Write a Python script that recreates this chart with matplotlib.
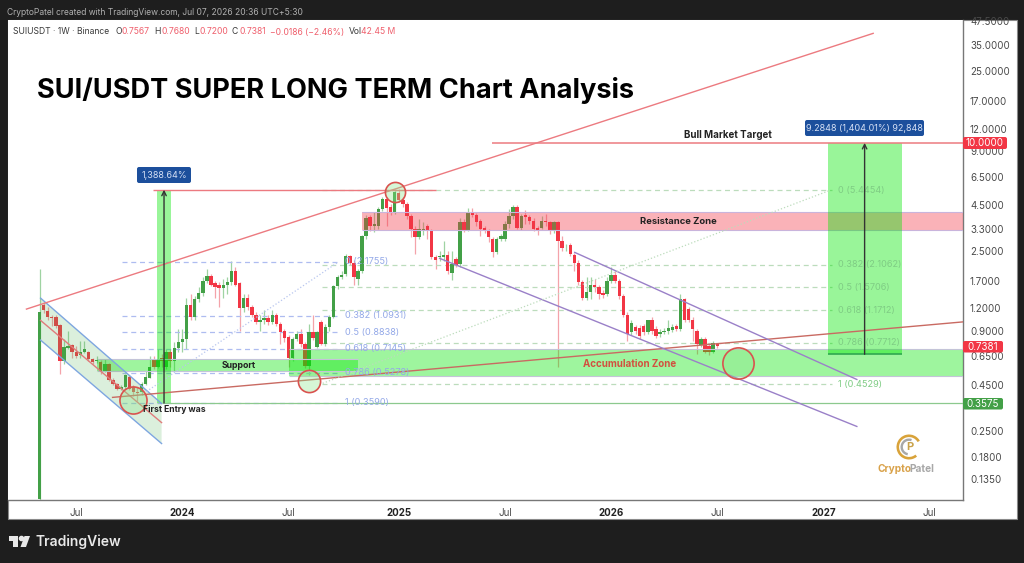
import matplotlib
matplotlib.use("Agg")
import matplotlib.pyplot as plt
from matplotlib.patches import Rectangle, Polygon, Wedge, FancyBboxPatch
from matplotlib.transforms import Affine2D

plt.rcParams['font.family'] = ['Inter', 'DejaVu Sans']

# --------------------------
# weekly candles (week 0 = first SUI candle)
# --------------------------
opens = [0.105, 1.26, 1.16, 1.08, 1.07, 0.97, 0.61, 0.72, 0.75, 0.69, 0.66, 0.69, 0.685, 0.63, 0.61, 0.605, 0.535, 0.59, 0.48, 0.455,
         0.43, 0.44, 0.50, 0.44, 0.41, 0.41, 0.455, 0.495, 0.62, 0.565, 0.635, 0.565, 0.69, 0.61, 0.72, 0.78, 0.81, 1.26, 1.07, 1.35,
         1.47, 1.70, 1.81, 1.66, 1.63, 1.55, 1.61, 1.68, 1.93, 1.66, 1.20, 1.38, 1.23, 1.11, 1.01, 1.03, 1.06, 1.01, 1.10, 0.98,
         0.90, 0.83, 0.635, 0.81, 0.86, 0.76, 0.575, 0.89, 0.73, 1.01, 0.76, 0.94, 1.08, 1.59, 1.79, 1.86, 2.34, 2.16, 1.74, 1.93,
         3.02, 3.85, 3.43, 3.47, 4.27, 4.85, 4.38, 4.11, 5.24, 4.79, 4.55, 3.90, 3.30, 2.98, 3.22, 3.43, 3.22, 2.31, 2.31, 2.31,
         2.37, 1.90, 2.25, 2.11, 3.61, 3.26, 4.11, 3.95, 3.66, 3.38, 3.22, 2.91, 2.46, 2.91, 2.91, 3.52, 3.90, 4.38, 3.38, 3.95,
         3.85, 3.70, 3.38, 3.38, 3.70, 3.61, 3.22, 3.61, 2.83, 2.62, 2.69, 2.37, 2.16, 1.68, 1.37, 1.49, 1.61, 1.57, 1.47, 1.44,
         1.70, 1.83, 1.70, 1.40, 1.11, 0.89, 0.94, 0.93, 0.96, 0.89, 1.04, 0.92, 0.86, 0.89, 0.90, 0.91, 0.96, 0.92, 1.35, 1.19,
         1.04, 0.90, 0.75, 0.81, 0.74, 0.685, 0.7567]
highs = [2.00, 1.30, 1.22, 1.11, 1.10, 0.98, 0.81, 0.90, 0.76, 0.74, 0.79, 0.79, 0.70, 0.64, 0.65, 0.62, 0.63, 0.595, 0.49, 0.46,
         0.45, 0.52, 0.51, 0.45, 0.44, 0.465, 0.535, 0.65, 0.65, 0.71, 0.67, 0.71, 0.71, 0.78, 0.92, 0.92, 1.38, 1.45, 1.40, 1.57,
         1.79, 1.98, 1.86, 1.70, 1.68, 1.74, 1.79, 2.19, 2.03, 1.68, 1.45, 1.44, 1.26, 1.14, 1.11, 1.17, 1.10, 1.17, 1.13, 1.01,
         0.92, 0.85, 0.83, 0.90, 0.92, 0.78, 0.98, 1.11, 0.90, 1.04, 0.98, 1.11, 1.63, 1.83, 1.93, 2.40, 2.37, 2.22, 1.98, 3.06,
         3.95, 3.95, 4.11, 4.38, 4.97, 4.97, 4.55, 5.51, 5.55, 4.97, 4.67, 4.00, 3.47, 3.75, 3.61, 3.52, 3.30, 2.37, 2.49, 2.83,
         2.49, 2.49, 2.31, 3.80, 3.75, 4.32, 4.32, 4.05, 3.75, 3.47, 3.30, 2.98, 2.98, 3.10, 3.66, 4.27, 4.49, 4.49, 4.00, 4.22,
         3.95, 3.80, 3.47, 3.90, 4.00, 3.70, 3.70, 3.70, 3.02, 2.73, 2.76, 2.43, 2.22, 1.72, 1.79, 1.79, 1.74, 1.63, 1.51, 1.79,
         2.03, 1.93, 1.74, 1.44, 1.14, 1.04, 0.97, 0.97, 0.98, 1.04, 1.07, 0.96, 0.92, 0.93, 1.04, 0.98, 0.98, 1.44, 1.38, 1.22,
         1.07, 0.92, 0.83, 0.83, 0.77, 0.79, 0.768]
lows = [0.10, 1.13, 1.03, 0.96, 0.93, 0.515, 0.59, 0.71, 0.64, 0.635, 0.64, 0.675, 0.61, 0.59, 0.595, 0.52, 0.53, 0.475, 0.45, 0.42,
        0.42, 0.43, 0.42, 0.39, 0.365, 0.395, 0.45, 0.49, 0.55, 0.56, 0.565, 0.55, 0.57, 0.535, 0.69, 0.69, 0.71, 1.04, 1.04, 1.30,
        1.40, 1.66, 1.59, 1.38, 1.22, 1.38, 1.44, 1.63, 1.59, 0.90, 1.14, 1.17, 1.07, 0.98, 0.90, 0.98, 0.97, 0.98, 0.96, 0.76,
        0.78, 0.565, 0.61, 0.79, 0.73, 0.56, 0.51, 0.80, 0.72, 0.75, 0.74, 0.90, 1.06, 1.53, 1.74, 1.81, 2.08, 1.63, 1.61, 1.88,
        2.91, 3.22, 3.18, 3.34, 4.16, 3.47, 3.95, 4.00, 4.67, 4.38, 3.75, 2.98, 2.40, 2.91, 3.06, 2.91, 2.25, 1.98, 2.19, 2.19,
        1.86, 1.72, 2.03, 2.05, 3.18, 3.22, 3.85, 3.47, 3.02, 3.14, 2.80, 2.31, 2.40, 2.83, 2.83, 3.38, 3.75, 3.30, 3.26, 3.56,
        3.52, 3.22, 3.06, 3.30, 3.47, 3.10, 3.14, 0.565, 2.52, 2.49, 2.34, 1.93, 1.63, 1.33, 1.33, 1.35, 1.49, 1.35, 1.38, 1.40,
        1.66, 1.66, 1.35, 1.08, 0.79, 0.85, 0.86, 0.81, 0.85, 0.86, 0.87, 0.82, 0.83, 0.86, 0.87, 0.89, 0.90, 0.90, 1.01, 1.01,
        0.79, 0.67, 0.73, 0.675, 0.66, 0.675, 0.72]
closes = [1.14, 1.17, 1.07, 1.06, 0.96, 0.61, 0.73, 0.74, 0.685, 0.65, 0.69, 0.71, 0.63, 0.605, 0.62, 0.535, 0.59, 0.48, 0.455, 0.43,
          0.44, 0.51, 0.43, 0.41, 0.405, 0.455, 0.50, 0.565, 0.565, 0.63, 0.61, 0.69, 0.61, 0.72, 0.78, 0.81, 1.26, 1.07, 1.35, 1.47,
          1.70, 1.81, 1.63, 1.57, 1.55, 1.63, 1.68, 1.93, 1.63, 1.20, 1.38, 1.22, 1.10, 1.01, 1.03, 1.06, 1.01, 1.10, 0.98, 0.89,
          0.82, 0.64, 0.81, 0.86, 0.76, 0.575, 0.89, 0.82, 0.89, 0.76, 0.94, 1.08, 1.59, 1.79, 1.83, 2.34, 2.14, 1.79, 1.93, 3.02,
          3.80, 3.43, 3.52, 4.27, 4.85, 4.32, 4.11, 5.30, 4.79, 4.55, 3.90, 3.30, 2.98, 3.30, 3.34, 3.22, 2.31, 2.22, 2.34, 2.37,
          1.93, 2.11, 2.08, 3.61, 3.26, 4.11, 3.95, 3.61, 3.30, 3.22, 2.98, 2.46, 2.91, 3.02, 3.52, 3.90, 4.38, 3.38, 3.90, 3.85,
          3.66, 3.30, 3.22, 3.66, 3.61, 3.22, 3.61, 2.83, 2.59, 2.65, 2.40, 2.16, 1.68, 1.37, 1.49, 1.61, 1.57, 1.44, 1.42, 1.70,
          1.83, 1.70, 1.40, 1.11, 0.86, 0.99, 0.90, 0.84, 0.89, 1.03, 0.90, 0.84, 0.89, 0.90, 0.93, 0.94, 0.92, 1.35, 1.03, 1.04,
          0.92, 0.76, 0.81, 0.69, 0.685, 0.77, 0.7381]

# --------------------------
# axis labels
# --------------------------
price_ticks = [47.5, 35, 25, 17, 12, 9, 6.5, 4.5, 3.3, 2.5, 1.7, 1.2, 0.9, 0.65, 0.45, 0.35, 0.25, 0.18, 0.135]
time_ticks = [9, 35, 61, 88, 114, 140, 166, 192, 218]
time_labels = ["Jul", "2024", "Jul", "2025", "Jul", "2026", "Jul", "2027", "Jul"]

# --------------------------
# fibonacci levels
# --------------------------
blue_fib_levels = [0, 0.382, 0.5, 0.618, 0.786, 1]
blue_fib_prices = [2.1755, 1.0931, 0.8838, 0.7145, 0.5278, 0.3590]
green_fib_levels = [0, 0.382, 0.5, 0.618, 0.786, 1]
green_fib_prices = [5.4454, 2.1062, 1.5706, 1.1712, 0.7712, 0.4529]

# drawings: (week, price)
upper_trend = [(-3.2, 1.19), (204.2, 40.7)]
lower_trend = [(17.9, 0.384), (226.2, 1.01)]
channel_top = [(0.25, 1.37), (29.9, 0.355)]
channel_mid = [(0.25, 1.03), (29.9, 0.278)]
channel_bottom = [(0.25, 0.80), (29.9, 0.2126)]
purple_lower = [(98, 2.28), (200.2, 0.2646)]
purple_upper = [(131.1, 2.46), (200.2, 0.483)]
blue_dotted = [(26.2, 0.414), (73, 2.16)]
green_dotted = [(68.6, 0.4529), (193.6, 5.4454)]
circle_weeks = [22.8, 65.9, 87, 171]
circle_prices = [0.37, 0.475, 5.33, 0.595]
circle_sizes = [19.5, 16, 14.5, 22.5]

W, H = 1024, 563
RED = "#f23645"
GREEN = "#43a047"
LINE_RED = "#ec7a80"
PURPLE = "#9a80c8"
XMIN, XMAX = -7.84, 226.2


def fx(px):
    return px / W


def fy(py):
    return 1 - py / H


# pixel coordinates of the picture, y flipped
px_trans = Affine2D().scale(1, -1).translate(0, H)

fig = plt.figure(figsize=(W / 100, H / 100), dpi=100, facecolor="#1e1e1e")

# white panel behind chart and scales
fig.add_artist(Rectangle((fx(7.5), fy(519)), 1009.5 / W, 499.5 / H, transform=fig.transFigure,
                         facecolor="white", edgecolor="#8a8a8a", linewidth=0.8, zorder=-5))

ax = fig.add_axes([fx(7.5), fy(499.5), 955.5 / W, 480 / H], facecolor="white")
ax.set_yscale("log")
ax.set_xlim(XMIN, XMAX)
ax.set_ylim(0.1038, 48.6)

for s in ["top", "left"]:
    ax.spines[s].set_visible(False)
for s in ["right", "bottom"]:
    ax.spines[s].set_color("#777777")
    ax.spines[s].set_linewidth(1.0)

ax.yaxis.tick_right()
ax.set_yticks(price_ticks)
ax.set_yticklabels([f"{p:.4f}" for p in price_ticks], fontsize=7, color="#4a4a4a")
ax.minorticks_off()
ax.tick_params(axis="y", length=0, pad=5)
ax.set_xticks(time_ticks)
ax.set_xticklabels(time_labels, fontsize=7, color="#4a4a4a")
ax.tick_params(axis="x", length=0, pad=6)
for lab in ax.get_xticklabels():
    if lab.get_text().isdigit():
        lab.set_fontweight("bold")
        lab.set_color("#222222")

# --------------------------
# candles
# --------------------------
for i in range(len(opens)):
    up = closes[i] >= opens[i]
    wick = "#9fd3a2" if up else "#f4a3aa"
    body = GREEN if up else RED
    ax.vlines(i, lows[i], highs[i], color=wick, linewidth=0.9, zorder=2)
    ax.bar(i, abs(closes[i] - opens[i]), bottom=min(opens[i], closes[i]), width=0.84, color=body, zorder=3, linewidth=0)

# --------------------------
# zones
# --------------------------


def zone(x0, x1, p0, p1, color, alpha=0.4, edge=None):
    ax.add_patch(Rectangle((x0, p0), x1 - x0, p1 - p0, facecolor=color, alpha=alpha, edgecolor="none", zorder=4))
    if edge:
        ax.hlines([p0, p1], x0, x1, color=edge, linewidth=0.8, zorder=4)


zone(78.9, XMAX, 3.26, 4.11, RED, 0.38, "#c9b4dc")
zone(61, XMAX, 0.505, 0.71, "#00e600", 0.38, "#c4c4d8")
zone(14, 77.9, 0.535, 0.63, "#00e600", 0.38, "#c4c4d8")
zone(28.8, 32.1, 0.3575, 5.49, "#00e600", 0.4)
zone(193.1, 211.2, 0.667, 10, "#00e600", 0.4)
ax.hlines(0.667, 193.1, 211.2, color="#2fa84f", linewidth=1.2, zorder=5)

# left channel
ax.add_patch(Polygon([channel_top[0], channel_top[1], channel_bottom[1], channel_bottom[0]],
                     facecolor="#4caf50", alpha=0.2, edgecolor="none", zorder=4))


def seg(points, color, lw=1.0, ls="-", z=5):
    ax.plot([points[0][0], points[1][0]], [points[0][1], points[1][1]], color=color, linewidth=lw, linestyle=ls, zorder=z)


seg(channel_top, "#7ea6e0")
seg(channel_bottom, "#7ea6e0")
seg(channel_mid, "#e07b7b")
seg(upper_trend, LINE_RED)
seg(lower_trend, "#c96a62")
seg(purple_lower, PURPLE)
seg(purple_upper, PURPLE)
seg(blue_dotted, "#b8c6ef", 0.9, ":")
seg(green_dotted, "#bcdcbc", 0.9, ":")

# horizontal lines
ax.hlines(5.49, 27.9, 97, color=LINE_RED, linewidth=1.0, zorder=5)
ax.hlines(10, 110.8, XMAX, color=LINE_RED, linewidth=1.1, zorder=5)
ax.hlines(0.3575, 30.1, XMAX, color="#8cc98e", linewidth=0.9, zorder=4)

# --------------------------
# fibonacci retracements
# --------------------------
ax.hlines(blue_fib_prices, 20.1, 73.5, color="#aebcf0", linewidth=0.9, linestyle=(0, (4, 3)), zorder=2)
ax.hlines(green_fib_prices, 69.1, 194.1, color="#bcdcbc", linewidth=0.9, linestyle=(0, (4, 3)), zorder=2)
for lev, pr in zip(blue_fib_levels, blue_fib_prices):
    ax.text(74.8, pr, f"{lev} ({pr:.4f})", fontsize=6.6, color="#94a9e8", va="center", ha="left", zorder=6)
for lev, pr in zip(green_fib_levels, green_fib_prices):
    ax.text(195.6, pr, f"{lev} ({pr:.4f})", fontsize=6.6, color="#7fcc84", va="center", ha="left", zorder=6)

# measure arrows
for x, p0, p1 in [(30.5, 0.3575, 5.49), (202.1, 0.667, 10)]:
    ax.annotate("", xy=(x, p1), xytext=(x, p0), zorder=7,
                arrowprops=dict(arrowstyle="->", color="#333333", lw=1.0, shrinkA=0, shrinkB=0, mutation_scale=8))

# circles
for w, p, s in zip(circle_weeks, circle_prices, circle_sizes):
    ax.plot([w], [p], linestyle="none", marker="o", markersize=s, markerfacecolor=(0.55, 0.9, 0.55, 0.35),
            markeredgecolor="#d9534f", markeredgewidth=1.2, zorder=8)

# --------------------------
# text
# --------------------------


def label(px, py, s, **kw):
    kw.setdefault("va", "center")
    fig.text(fx(px), fy(py), s, **kw)


label(7, 12.5, "CryptoPatel created with TradingView.com, Jul 07, 2026 20:36 UTC+5:30", fontsize=6.1, color="#b0b0b0")
label(13, 32, "SUIUSDT · 1W · Binance", fontsize=6.2, color="#3a3a3a")
header_black = [(115, "O"), (154, "H"), (194, "L"), (232, "C"), (349, "Vol")]
header_red = [(122, "0.7567"), (161, "0.7680"), (199, "0.7200"), (239, "0.7381"), (270, "−0.0186 (−2.46%)"), (361, "42.45 M")]
for x, s in header_black:
    label(x, 32, s, fontsize=6.2, color="#3a3a3a")
for x, s in header_red:
    label(x, 32, s, fontsize=6.2, color="#ef5f6c")

label(37, 91, "SUI/USDT SUPER LONG TERM Chart Analysis", fontsize=19.6, fontweight="bold", color="black")
label(728, 135, "Bull Market Target", fontsize=7, fontweight="bold", color="#222222", ha="center")
label(678, 221.5, "Resistance Zone", fontsize=6.8, fontweight="bold", color="#222222", ha="center")
label(239, 365.5, "Support", fontsize=6.3, fontweight="bold", color="#222222", ha="center")
label(143, 410, "First Entry was", fontsize=6.2, fontweight="bold", color="#222222")
label(630, 364, "Accumulation Zone", fontsize=7, fontweight="bold", color="#d2503f", ha="center")


def box(px0, py0, px1, py1, face, s, fs=7, col="white"):
    fig.add_artist(FancyBboxPatch((px0 + 1.5, py0 + 1.5), px1 - px0 - 3, py1 - py0 - 3, boxstyle="round,pad=1.5,rounding_size=2",
                                  transform=px_trans, facecolor=face, edgecolor="none", zorder=9))
    fig.text(fx((px0 + px1) / 2), fy((py0 + py1) / 2 + 0.3), s, ha="center", va="center", color=col, fontsize=fs, zorder=10)


box(963, 137, 1007, 149, RED, "10.0000")
box(963, 341, 1003, 352.5, RED, "0.7381")
box(963, 398, 1003, 409.5, "#43a047", "0.3575")
box(137, 167, 191, 183, "#1c4f9c", "1,388.64%", fs=6.5, col="#d5e0f5")
box(805, 120, 924, 136, "#1c4f9c", "9.2848 (1,404.01%) 92,848", fs=6.5, col="#d5e0f5")

# cryptopatel logo
fig.add_artist(Wedge((909, 447), 12.5, 50, 330, width=2.6, facecolor="#d9a33a", edgecolor="none", transform=px_trans))
fig.add_artist(Wedge((909, 447), 8.5, 100, 290, width=2.4, facecolor="#a8a8a8", edgecolor="none", transform=px_trans))
label(910, 447, "P", fontsize=8, fontweight="bold", color="#c9a24a", ha="center")
label(877, 469, "Crypto", fontsize=7.3, fontweight="bold", color="#d9a24a")
label(909.5, 469, "Patel", fontsize=7.3, fontweight="bold", color="#a8a8a8")

# tradingview logo
fig.add_artist(Polygon([(8.5, 536), (18, 536), (18, 547), (13, 547), (13, 540.5), (8.5, 540.5)],
                       closed=True, transform=px_trans, facecolor="#e8e8e8", edgecolor="none"))
fig.add_artist(Polygon([(24.5, 536), (30, 536), (26, 547), (20.5, 547)],
                       closed=True, transform=px_trans, facecolor="#e8e8e8", edgecolor="none"))
fig.add_artist(plt.Line2D([fx(21)], [fy(538.2)], marker="o", markersize=3.0, color="#e8e8e8", transform=fig.transFigure))
label(35, 541.5, "TradingView", fontsize=10, fontweight="semibold", color="#e8e8e8")

fig.savefig("out.png", dpi=100, facecolor=fig.get_facecolor())
